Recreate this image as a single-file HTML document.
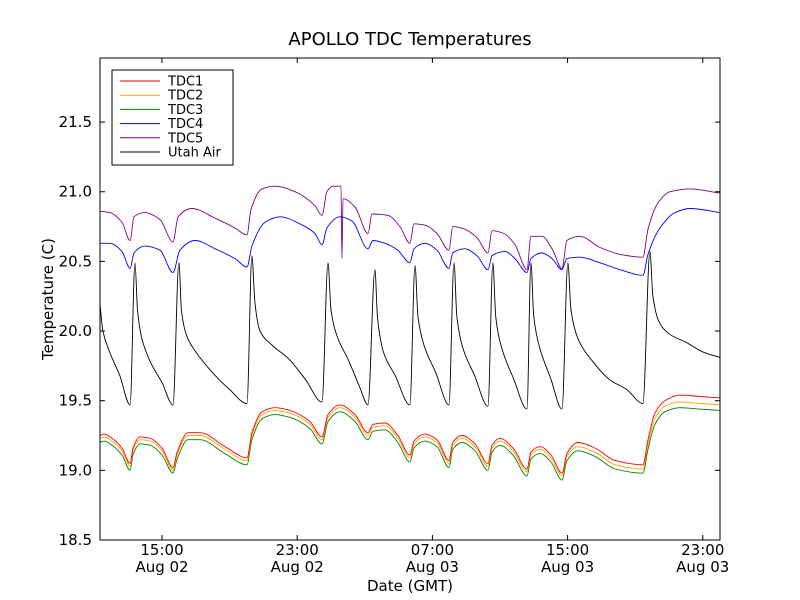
<!DOCTYPE html>
<html><head><meta charset="utf-8"><style>
html,body{margin:0;padding:0;background:#fff;}
svg{display:block;font-family:"DejaVu Sans","Liberation Sans",sans-serif;}
</style></head><body>
<svg id="chart" width="800" height="600" viewBox="0 0 800 600">
<rect x="0" y="0" width="800" height="600" fill="#fff"/>
<text x="410" y="45" text-anchor="middle" font-size="18">APOLLO TDC Temperatures</text>
<g id="plot"></g>
<rect x="100" y="58" width="620" height="482" fill="none" stroke="#000" stroke-width="1"/>
<text x="410" y="591" text-anchor="middle" font-size="15">Date (GMT)</text>
<text x="53" y="299" text-anchor="middle" font-size="15" transform="rotate(-90 53 299)">Temperature (C)</text>
<g id="legend"></g>
</svg>
<script>
const yTicks = [18.5, 19.0, 19.5, 20.0, 20.5, 21.0, 21.5];
const xTicks = [15, 23, 31, 39, 47];
const xTickTime = ["15:00", "23:00", "07:00", "15:00", "23:00"];
const xTickDate = ["Aug 02", "Aug 02", "Aug 03", "Aug 03", "Aug 03"];
const seriesNames = ["TDC1", "TDC2", "TDC3", "TDC4", "TDC5", "Utah Air"];

const tdcTimes = [11.33,11.57,12.04,12.63,13.11,13.28,13.70,14.29,15.00,15.65,15.89,16.54,17.25,18.73,20.03,20.32,20.92,21.69,22.57,23.76,24.47,24.82,25.53,26.42,27.19,27.48,28.19,28.96,29.67,29.91,30.56,31.27,31.98,32.21,32.75,33.52,34.29,34.53,35.00,35.77,36.60,36.83,37.37,38.02,38.67,38.96,39.62,40.62,41.81,43.46,43.76,44.17,44.76,45.65,46.83,48.02];
const tdc1 = [19.25,19.26,19.23,19.16,19.05,19.16,19.24,19.23,19.16,19.02,19.13,19.27,19.27,19.17,19.09,19.27,19.42,19.45,19.43,19.35,19.24,19.40,19.47,19.40,19.27,19.33,19.34,19.25,19.11,19.21,19.26,19.22,19.07,19.20,19.25,19.19,19.05,19.18,19.23,19.16,19.01,19.13,19.17,19.11,18.98,19.12,19.20,19.16,19.07,19.04,19.22,19.41,19.50,19.54,19.53,19.52];
const tdc2 = [19.23,19.24,19.21,19.14,19.03,19.14,19.22,19.21,19.14,19.00,19.11,19.25,19.25,19.15,19.07,19.25,19.40,19.43,19.41,19.33,19.22,19.38,19.45,19.38,19.25,19.31,19.32,19.23,19.09,19.19,19.24,19.20,19.05,19.18,19.23,19.17,19.03,19.16,19.21,19.14,18.99,19.11,19.15,19.09,18.96,19.10,19.17,19.13,19.04,19.01,19.19,19.37,19.46,19.49,19.48,19.47];
const tdc3 = [19.20,19.21,19.18,19.11,19.00,19.11,19.19,19.18,19.11,18.98,19.08,19.22,19.22,19.12,19.04,19.22,19.37,19.40,19.38,19.30,19.19,19.35,19.42,19.35,19.22,19.28,19.29,19.20,19.06,19.16,19.21,19.17,19.02,19.15,19.20,19.14,19.00,19.13,19.18,19.11,18.96,19.08,19.12,19.06,18.93,19.07,19.14,19.10,19.01,18.98,19.15,19.33,19.42,19.45,19.44,19.43];

const tdc4Times = [11.33,11.92,12.63,13.11,13.34,13.99,14.88,15.65,16.06,16.95,18.14,19.32,20.03,20.32,21.09,21.98,23.16,24.05,24.47,24.76,25.53,26.24,27.19,27.48,28.19,28.96,29.67,29.91,30.56,31.27,31.98,32.21,32.93,33.64,34.29,34.53,35.30,35.89,36.60,36.83,37.48,38.08,38.67,38.96,39.73,40.92,42.10,43.46,43.76,44.47,45.36,46.24,48.02];
const tdc4 = [20.63,20.63,20.57,20.45,20.56,20.61,20.58,20.42,20.58,20.65,20.59,20.52,20.46,20.61,20.78,20.82,20.77,20.70,20.62,20.74,20.82,20.79,20.59,20.65,20.63,20.58,20.49,20.59,20.63,20.58,20.45,20.56,20.59,20.54,20.44,20.54,20.57,20.52,20.42,20.52,20.56,20.52,20.44,20.52,20.53,20.49,20.44,20.40,20.55,20.74,20.85,20.88,20.85];

const tdc5Times = [11.33,11.92,12.63,13.11,13.34,13.99,14.88,15.65,15.95,16.77,18.14,19.32,20.03,20.26,20.92,21.69,22.87,24.05,24.47,24.76,25.12,25.59,25.65,25.71,26.42,27.19,27.42,28.37,29.08,29.67,29.91,30.56,31.27,31.98,32.21,32.93,33.64,34.29,34.53,35.24,35.89,36.60,36.83,37.48,38.08,38.67,38.96,39.73,40.92,42.10,43.46,43.76,44.35,45.06,46.24,48.02];
const tdc5 = [20.86,20.85,20.78,20.65,20.82,20.85,20.80,20.64,20.82,20.88,20.81,20.74,20.69,20.87,21.02,21.04,21.00,20.90,20.83,21.00,21.04,21.04,20.52,20.95,20.89,20.70,20.84,20.83,20.75,20.63,20.77,20.76,20.70,20.58,20.75,20.73,20.67,20.56,20.72,20.70,20.62,20.44,20.68,20.68,20.59,20.45,20.65,20.68,20.60,20.55,20.53,20.73,20.92,21.00,21.02,20.99];

const airTimes = [11.33,11.5,11.9,12.5,13.11,13.40,13.55,13.8,14.3,15.0,15.65,16.00,16.15,16.45,17.0,18.0,19.0,20.03,20.32,20.5,20.8,21.5,22.5,23.5,24.47,24.82,25.0,25.4,26.0,26.69,27.19,27.60,27.75,28.1,28.8,29.67,29.97,30.15,30.5,31.2,31.98,32.28,32.45,32.8,33.5,34.29,34.58,34.75,35.1,35.8,36.60,36.83,37.0,37.35,38.0,38.67,39.02,39.2,39.6,40.5,41.5,42.5,43.46,43.87,44.05,44.4,45.0,46.0,47.0,48.02];
const air = [20.19,20.00,19.85,19.68,19.47,20.49,20.15,19.95,19.78,19.63,19.47,20.49,20.15,19.97,19.85,19.70,19.58,19.48,20.54,20.20,20.00,19.90,19.80,19.65,19.49,20.49,20.15,19.95,19.80,19.60,19.47,20.44,20.10,19.85,19.68,19.47,20.47,20.10,19.90,19.70,19.47,20.49,20.10,19.88,19.68,19.46,20.49,20.10,19.88,19.66,19.44,20.49,20.10,19.88,19.66,19.44,20.49,20.15,19.95,19.78,19.65,19.58,19.48,20.57,20.25,20.07,19.98,19.92,19.85,19.81];

const X0=100, X1=720, Y0=540, Y1=58;
const XMIN=11.33, XMAX=48.02, YMIN=18.5, YMAX=21.96;
function xs(h){return X0+(h-XMIN)/(XMAX-XMIN)*(X1-X0);}
function ys(v){return Y0-(v-YMIN)/(YMAX-YMIN)*(Y0-Y1);}
const NS="http://www.w3.org/2000/svg";
const plot=document.getElementById('plot');
const svg=document.getElementById('chart');
function mk(tag,attrs,parent){const e=document.createElementNS(NS,tag);for(const k in attrs)e.setAttribute(k,attrs[k]);parent.appendChild(e);return e;}

yTicks.forEach((v,i)=>{
  const y=ys(v);
  const t1=mk('line',{x1:X0,x2:X0+5,y1:y,y2:y,stroke:'#000','stroke-width':1},svg);
  
  
  const t2=mk('line',{x1:X1-5,x2:X1,y1:y,y2:y,stroke:'#000','stroke-width':1},svg);
  
  
  const lb=mk('text',{x:X0-8,y:y+5,'text-anchor':'end','font-size':15},svg);
  lb.textContent=v.toFixed(1);
  
  
});
xTicks.forEach((h,i)=>{
  const x=xs(h);
  const t1=mk('line',{x1:x,x2:x,y1:Y0,y2:Y0-5,stroke:'#000','stroke-width':1},svg);
  
  
  const t2=mk('line',{x1:x,x2:x,y1:Y1,y2:Y1+5,stroke:'#000','stroke-width':1},svg);
  
  
  const a=mk('text',{x:x,y:555,'text-anchor':'middle','font-size':15},svg);
  a.textContent=xTickTime[i];
  
  
  const b=mk('text',{x:x,y:572,'text-anchor':'middle','font-size':15},svg);
  b.textContent=xTickDate[i];
  
  
});

// monotone cubic path through data points (rendering only)
function monoPath(px,py){
  const n=px.length, d=[], m=new Array(n);
  for(let i=0;i<n-1;i++) d.push((py[i+1]-py[i])/(px[i+1]-px[i]));
  m[0]=d[0]; m[n-1]=d[n-2];
  for(let i=1;i<n-1;i++){
    if(d[i-1]*d[i]<=0) m[i]=0;
    else { const h0=px[i]-px[i-1], h1=px[i+1]-px[i];
      const w1=2*h1+h0, w2=h1+2*h0; m[i]=(w1+w2)/(w1/d[i-1]+w2/d[i]); }
  }
  let s='M'+px[0].toFixed(1)+' '+py[0].toFixed(1);
  for(let i=0;i<n-1;i++){
    const h=(px[i+1]-px[i])/3;
    s+=' C'+(px[i]+h).toFixed(1)+' '+(py[i]+m[i]*h).toFixed(1)+' '+(px[i+1]-h).toFixed(1)+' '+(py[i+1]-m[i+1]*h).toFixed(1)+' '+px[i+1].toFixed(1)+' '+py[i+1].toFixed(1);
  }
  return s;
}
function line(times,vals,color,name){
  const px=times.map(xs), py=vals.map(ys);
  const p=mk('path',{d:monoPath(px,py),fill:'none',stroke:color,'stroke-width':0.9,'stroke-linejoin':'round'},plot);
  
  
}
line(airTimes,air,'#000','series-utah-air');
line(tdc5Times,tdc5,'#800080','series-tdc5');
line(tdc4Times,tdc4,'#0000ff','series-tdc4');
line(tdcTimes,tdc3,'#008000','series-tdc3');
line(tdcTimes,tdc2,'#ffa500','series-tdc2');
line(tdcTimes,tdc1,'#ff0000','series-tdc1');

const lg=document.getElementById('legend');
const box=mk('rect',{x:112,y:70,width:121,height:95,fill:'#fff',stroke:'#000','stroke-width':1},lg);


const colors=['#ff0000','#ffa500','#008000','#0000ff','#800080','#000'];
seriesNames.forEach((n,i)=>{
  const y=81+i*14.2;
  const l=mk('line',{x1:120,x2:160,y1:y,y2:y,stroke:colors[i],'stroke-width':1},lg);
  
  
  const t=mk('text',{x:168,y:y+4.5,'font-size':13},lg);
  t.textContent=n;
  
  
});
</script>
</body></html>
